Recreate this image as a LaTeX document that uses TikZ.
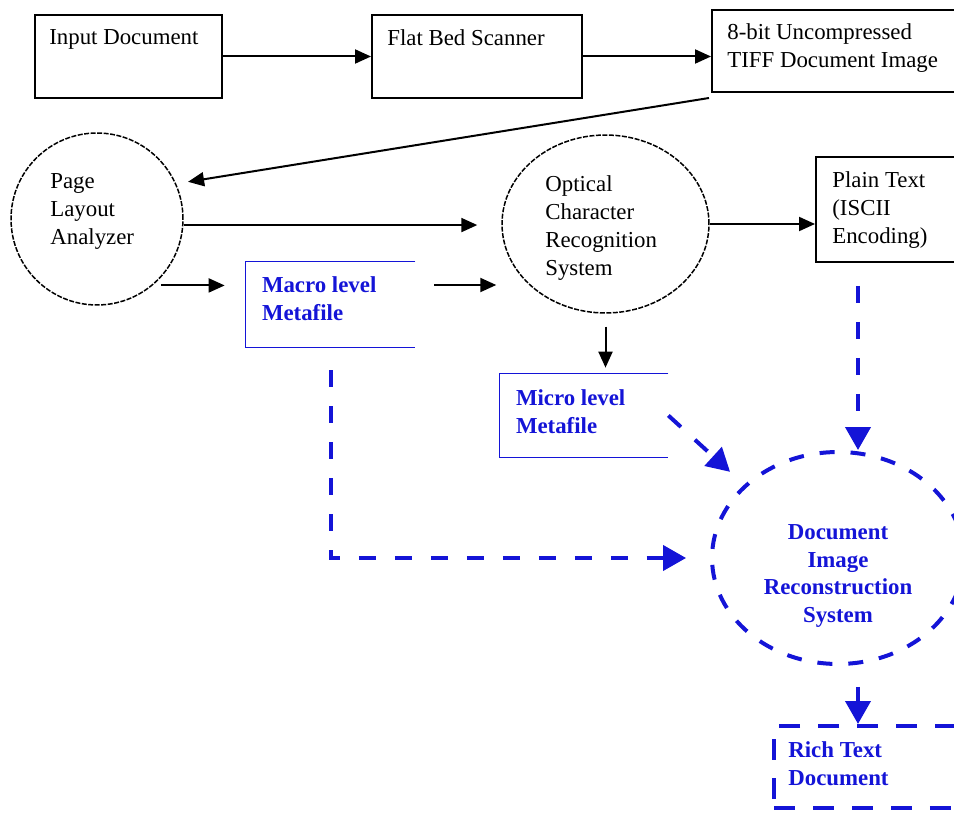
\documentclass[tikz,border=0pt]{standalone}
\usepackage{fontspec}
\setmainfont{Liberation Serif}
\usepackage{xcolor}
\usepackage{tikz}
\usetikzlibrary{positioning,arrows.meta,calc,shapes.geometric}

\definecolor{recblue}{RGB}{20,20,215}
\newcommand{\figfont}{\fontsize{13pt}{15.9pt}\selectfont}

\begin{document}
\begin{tikzpicture}[x=0.02cm, y=-0.02cm, font=\figfont,
  box/.style={draw, rectangle, line width=0.04cm, inner sep=0pt},
  rim/.style={draw, line width=0.03cm, dash pattern=on 0.1cm off 0.03cm, inner sep=0pt},
  meta/.style={rectangle, inner sep=0pt},
  txt/.style={anchor=north west, inner sep=0pt, align=left},
  btxt/.style={txt, text=recblue, font=\figfont\bfseries},
  arr/.style={-{Triangle[length=0.32cm,width=0.28cm]}, line width=0.04cm},
  barr/.style={-{Triangle[length=0.46cm,width=0.5cm]}, color=recblue, line width=0.08cm,
    dash pattern=on 0.34cm off 0.38cm}]
\useasboundingbox (0,0) rectangle (954,814);
\clip (0,0) rectangle (954,814);

% scanning row
\node[box, minimum width=3.74cm, minimum height=1.66cm] (input) at (128.5,56.5) {};
\node[txt] (inputtxt) at ([shift={(0.3cm,-0.3cm)}]input.north west) {Input Document};
\node[box, minimum width=4.2cm, minimum height=1.66cm] (flat) at (477,56.5) {};
\node[txt] (flattxt) at ([shift={(0.32cm,-0.3cm)}]flat.north west) {Flat Bed Scanner};
\node[box, minimum width=5.36cm, minimum height=1.64cm] (tiff) at (846,51) {};
\node[txt] (tifftxt) at ([shift={(0.32cm,-0.28cm)}]tiff.north west)
  {8-bit Uncompressed\\TIFF Document Image};

% analysis row
\node[rim, circle, minimum size=3.44cm] (pla) at (97,219) {};
\node[txt] (platxt) at ([shift={(-0.94cm,0.92cm)}]pla.center) {Page\\Layout\\Analyzer};
\node[rim, ellipse, minimum width=4.14cm, minimum height=3.56cm] (ocr) at (605.5,224) {};
\node[txt] (ocrtxt) at ([shift={(-1.21cm,0.98cm)}]ocr.center)
  {Optical\\Character\\Recognition\\System};
\node[box, minimum width=3.28cm, minimum height=2.1cm] (plain) at (898,209.5) {};
\node[txt] (plaintxt) at ([shift={(0.34cm,-0.3cm)}]plain.north west)
  {Plain Text\\(ISCII\\Encoding)};

% metafiles, open on the right
\node[meta, minimum width=3.38cm, minimum height=1.7cm] (macro) at (330.5,304.5) {};
\draw[recblue, line width=0.03cm]
  (macro.north east) -- (macro.north west) -- (macro.south west) -- (macro.south east);
\node[btxt] (macrotxt) at ([shift={(0.32cm,-0.3cm)}]macro.north west) {Macro level\\Metafile};
\node[meta, minimum width=3.36cm, minimum height=1.66cm] (micro) at (584,415.5) {};
\draw[recblue, line width=0.03cm]
  (micro.north east) -- (micro.north west) -- (micro.south west) -- (micro.south east);
\node[btxt] (microtxt) at ([shift={(0.32cm,-0.32cm)}]micro.north west) {Micro level\\Metafile};

% reconstruction
\node[ellipse, draw=recblue, line width=0.08cm, dash pattern=on 0.3cm off 0.32cm,
  minimum width=5.04cm, minimum height=4.24cm] (dirs) at (838,558) {};
\node[btxt, anchor=center, align=center] (dirstxt) at ([yshift=-0.36cm]dirs.center)
  {Document\\Image\\Reconstruction\\System};
\node[rectangle, draw=recblue, line width=0.08cm, dash pattern=on 0.42cm off 0.36cm,
  minimum width=4.12cm, minimum height=1.64cm] (rich) at (877,767) {};
\node[btxt] (richtxt) at ([shift={(0.32cm,-0.34cm)}]rich.north west) {Rich Text\\Document};

% black flow
\draw[arr] (input.east) -- (flat.west);
\draw[arr] (flat.east) -- (flat.east -| tiff.west);
\draw[arr, shorten >=0.24cm] ([shift={(-0.04cm,-0.1cm)}]tiff.south west) -- (pla.24);
\draw[arr, shorten >=0.48cm] (pla.-4) -- (pla.-4 -| ocr.west);
\draw[arr, shorten <=0.16cm, shorten >=0.42cm] (pla.-50) -- (pla.-50 -| macro.west);
\draw[arr, shorten <=0.38cm, shorten >=0.1cm]
  ([yshift=0.39cm]macro.east) -- ([yshift=0.39cm]macro.east -| ocr.west);
\draw[arr] (ocr.east) -- (ocr.east -| plain.west);
\draw[arr, shorten <=0.26cm, shorten >=0.12cm] (ocr.south) -- (ocr.south |- micro.north);

% blue flow into the reconstruction
\draw[barr, shorten >=0.38cm] (micro.east) -- (dirs.142);
\draw[barr, shorten <=0.46cm] ([xshift=-0.8cm]plain.south) -- ([xshift=-0.8cm]plain.south |- dirs.north);
\draw[barr, shorten <=0.46cm, shorten >=0.48cm] (macro.south) |- (dirs.west);
\draw[barr, solid, shorten <=0.42cm] ([xshift=0.4cm]dirs.south) -- ([xshift=0.4cm]dirs.south |- rich.north);
\end{tikzpicture}
\end{document}
